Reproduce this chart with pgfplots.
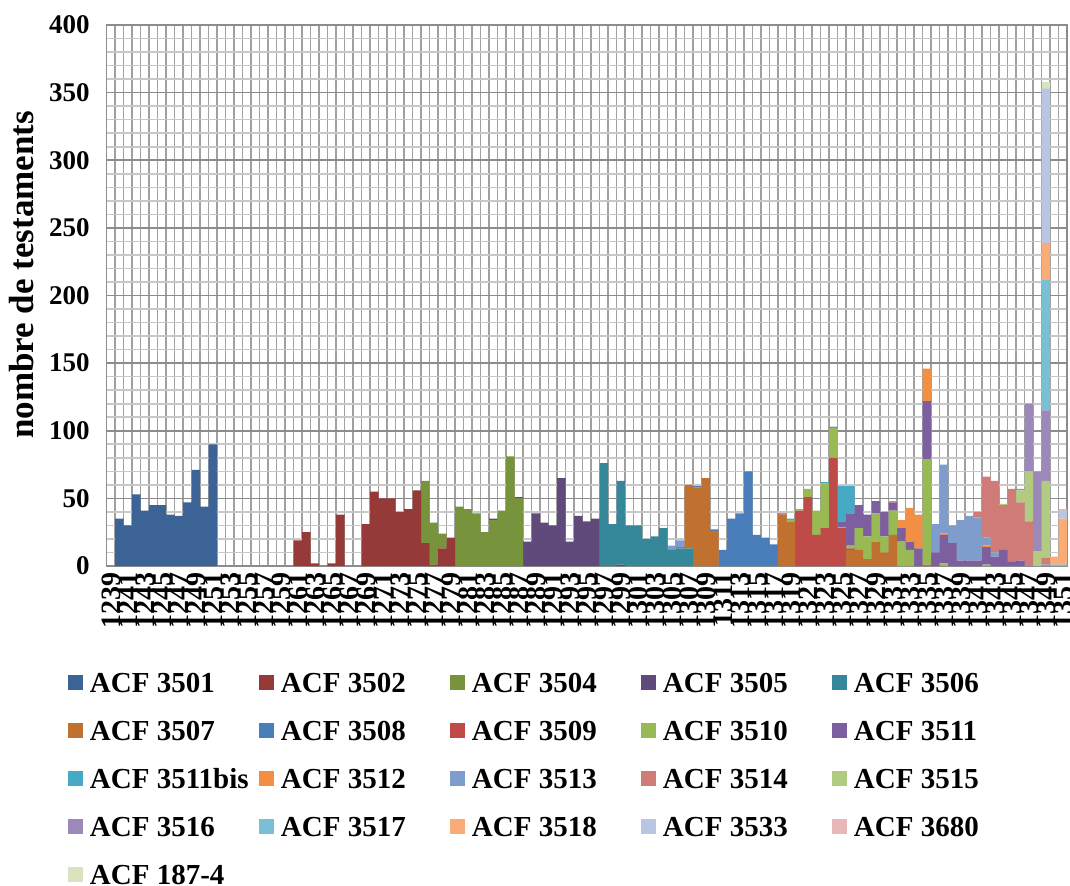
\documentclass[border=0pt]{standalone}
\usepackage{fontspec}
\setmainfont{Liberation Serif}
\usepackage{pgfplots}
\pgfplotsset{compat=1.18}
\usepackage{pgfplotstable}

\definecolor{c01}{HTML}{3B6395}
\definecolor{c02}{HTML}{953A38}
\definecolor{c04}{HTML}{77933C}
\definecolor{c05}{HTML}{604A7B}
\definecolor{c06}{HTML}{35879A}
\definecolor{c07}{HTML}{C0712F}
\definecolor{c08}{HTML}{4A7EBB}
\definecolor{c09}{HTML}{BE4B48}
\definecolor{c10}{HTML}{98B954}
\definecolor{c11}{HTML}{7D5FA0}
\definecolor{c11b}{HTML}{46AAC5}
\definecolor{c12}{HTML}{F38E45}
\definecolor{c13}{HTML}{7E9DCD}
\definecolor{c14}{HTML}{CF7C79}
\definecolor{c15}{HTML}{B1CB80}
\definecolor{c16}{HTML}{9D88BA}
\definecolor{c17}{HTML}{7AC0D4}
\definecolor{c18}{HTML}{F9AC76}
\definecolor{c33}{HTML}{B9C6E3}
\definecolor{c80}{HTML}{E6B9B8}
\definecolor{c87}{HTML}{D7E4BD}
\definecolor{gmaj}{HTML}{8C8C8C}
\definecolor{gmin}{HTML}{C8C8C8}
\definecolor{gvert}{HTML}{A0A0A0}

% testaments per year and register (ACF = archives)
\pgfplotstableread{
year a01 a02 a04 a05 a06 a07 a08 a09 a10 a11 a11b a12 a13 a14 a15 a16 a17 a18 a33 a80 a87
1240 35 0 0 0 0 0 0 0 0 0 0 0 0 0 0 0 0 0 0 0 0
1241 30 0 0 0 0 0 0 0 0 0 0 0 0 0 0 0 0 0 0 0 0
1242 53 0 0 0 0 0 0 0 0 0 0 0 0 0 0 0 0 0 0 0 0
1243 41 0 0 0 0 0 0 0 0 0 0 0 0 0 0 0 0 0 0 0 0
1244 45 0 0 0 0 0 0 0 0 0 0 0 0 0 0 0 0 0 0 0 0
1245 45 0 0 0 0 0 0 0 0 0 0 0 0 0 0 0 0 0 0 0 0
1246 38 0 0 0 0 0 0 0 0 0 0 0 0 0 0 0 0 0 0 0 0
1247 37 0 0 0 0 0 0 0 0 0 0 0 0 0 0 0 0 0 0 0 0
1248 47 0 0 0 0 0 0 0 0 0 0 0 0 0 0 0 0 0 0 0 0
1249 71 0 0 0 0 0 0 0 0 0 0 0 0 0 0 0 0 0 0 0 0
1250 44 0 0 0 0 0 0 0 0 0 0 0 0 0 0 0 0 0 0 0 0
1251 90 0 0 0 0 0 0 0 0 0 0 0 0 0 0 0 0 0 0 0 0
1261 0 19 0 0 0 0 0 0 0 0 0 0 0 0 0 0 0 0 0 0 0
1262 0 25 0 0 0 0 0 0 0 0 0 0 0 0 0 0 0 0 0 0 0
1263 0 2 0 0 0 0 0 0 0 0 0 0 0 0 0 0 0 0 0 0 0
1265 0 2 0 0 0 0 0 0 0 0 0 0 0 0 0 0 0 0 0 0 0
1266 0 38 0 0 0 0 0 0 0 0 0 0 0 0 0 0 0 0 0 0 0
1269 0 31 0 0 0 0 0 0 0 0 0 0 0 0 0 0 0 0 0 0 0
1270 0 55 0 0 0 0 0 0 0 0 0 0 0 0 0 0 0 0 0 0 0
1271 0 50 0 0 0 0 0 0 0 0 0 0 0 0 0 0 0 0 0 0 0
1272 0 50 0 0 0 0 0 0 0 0 0 0 0 0 0 0 0 0 0 0 0
1273 0 40 0 0 0 0 0 0 0 0 0 0 0 0 0 0 0 0 0 0 0
1274 0 42 0 0 0 0 0 0 0 0 0 0 0 0 0 0 0 0 0 0 0
1275 0 56 0 0 0 0 0 0 0 0 0 0 0 0 0 0 0 0 0 0 0
1276 0 17 46 0 0 0 0 0 0 0 0 0 0 0 0 0 0 0 0 0 0
1277 0 1 31 0 0 0 0 0 0 0 0 0 0 0 0 0 0 0 0 0 0
1278 0 13 11 0 0 0 0 0 0 0 0 0 0 0 0 0 0 0 0 0 0
1279 0 21 0 0 0 0 0 0 0 0 0 0 0 0 0 0 0 0 0 0 0
1280 0 0 44 0 0 0 0 0 0 0 0 0 0 0 0 0 0 0 0 0 0
1281 0 0 42 0 0 0 0 0 0 0 0 0 0 0 0 0 0 0 0 0 0
1282 0 0 39 0 0 0 0 0 0 0 0 0 0 0 0 0 0 0 0 0 0
1283 0 0 25 0 0 0 0 0 0 0 0 0 0 0 0 0 0 0 0 0 0
1284 0 0 34 1 0 0 0 0 0 0 0 0 0 0 0 0 0 0 0 0 0
1285 0 0 41 0 0 0 0 0 0 0 0 0 0 0 0 0 0 0 0 0 0
1286 0 0 81 0 0 0 0 0 0 0 0 0 0 0 0 0 0 0 0 0 0
1287 0 0 50 1 0 0 0 0 0 0 0 0 0 0 0 0 0 0 0 0 0
1288 0 0 0 18 0 0 0 0 0 0 0 0 0 0 0 0 0 0 0 0 0
1289 0 0 0 39 0 0 0 0 0 0 0 0 0 0 0 0 0 0 0 0 0
1290 0 0 0 32 0 0 0 0 0 0 0 0 0 0 0 0 0 0 0 0 0
1291 0 0 0 30 0 0 0 0 0 0 0 0 0 0 0 0 0 0 0 0 0
1292 0 0 0 65 0 0 0 0 0 0 0 0 0 0 0 0 0 0 0 0 0
1293 0 0 0 18 0 0 0 0 0 0 0 0 0 0 0 0 0 0 0 0 0
1294 0 0 0 37 0 0 0 0 0 0 0 0 0 0 0 0 0 0 0 0 0
1295 0 0 0 33 0 0 0 0 0 0 0 0 0 0 0 0 0 0 0 0 0
1296 0 0 0 35 0 0 0 0 0 0 0 0 0 0 0 0 0 0 0 0 0
1297 0 0 0 0 76 0 0 0 0 0 0 0 0 0 0 0 0 0 0 0 0
1298 0 0 0 0 31 0 0 0 0 0 0 0 0 0 0 0 0 0 0 0 0
1299 0 0 0 1 62 0 0 0 0 0 0 0 0 0 0 0 0 0 0 0 0
1300 0 0 0 0 30 0 0 0 0 0 0 0 0 0 0 0 0 0 0 0 0
1301 0 0 0 0 30 0 0 0 0 0 0 0 0 0 0 0 0 0 0 0 0
1302 0 0 0 0 20 0 0 0 0 0 0 0 0 0 0 0 0 0 0 0 0
1303 0 0 0 0 22 0 0 0 0 0 0 0 0 0 0 0 0 0 0 0 0
1304 0 0 0 0 28 0 0 0 0 0 0 0 0 0 0 0 0 0 0 0 0
1305 0 0 0 0 12 0 0 0 0 0 0 0 3 0 0 0 0 0 0 0 0
1306 0 0 0 0 13 1 0 0 0 0 0 0 5 0 0 0 0 0 0 0 0
1307 0 0 0 0 13 47 0 0 0 0 0 0 0 0 0 0 0 0 0 0 0
1308 0 0 0 0 0 58 1 0 0 0 0 0 0 0 0 0 0 0 0 0 0
1309 0 0 0 0 0 65 0 0 0 0 0 0 0 0 0 0 0 0 0 0 0
1310 0 0 0 0 0 26 1 0 0 0 0 0 0 0 0 0 0 0 0 0 0
1311 0 0 0 0 0 0 12 0 0 0 0 0 0 0 0 0 0 0 0 0 0
1312 0 0 0 0 0 0 35 0 0 0 0 0 0 0 0 0 0 0 0 0 0
1313 0 0 0 0 0 0 39 0 0 0 0 0 0 0 0 0 0 0 0 0 0
1314 0 0 0 0 0 0 70 0 0 0 0 0 0 0 0 0 0 0 0 0 0
1315 0 0 0 0 0 0 23 0 0 0 0 0 0 0 0 0 0 0 0 0 0
1316 0 0 0 0 0 0 21 0 0 0 0 0 0 0 0 0 0 0 0 0 0
1317 0 0 0 0 0 0 16 0 0 0 0 0 0 0 0 0 0 0 0 0 0
1318 0 0 0 0 0 38 0 1 0 0 0 0 0 0 0 0 0 0 0 0 0
1319 0 0 0 0 0 33 0 0 1 0 1 0 0 0 0 0 0 0 0 0 0
1320 0 0 0 0 0 0 0 41 1 0 0 0 0 0 0 0 0 0 0 0 0
1321 0 0 0 0 0 0 0 51 6 0 0 0 0 0 0 0 0 0 0 0 0
1322 0 0 0 0 0 0 0 23 18 0 0 0 0 0 0 0 0 0 0 0 0
1323 0 0 0 0 0 0 0 28 33 0 1 0 0 0 0 0 0 0 0 0 0
1324 0 0 0 0 0 0 0 80 22 0 1 0 0 0 0 0 0 0 0 0 0
1325 0 0 0 0 0 0 0 28 1 4 26 0 0 0 0 0 0 0 0 0 0
1326 0 0 0 0 0 12 0 1 2 24 20 0 0 0 0 0 0 0 0 0 0
1327 0 0 0 0 0 12 0 0 16 17 0 0 0 0 0 0 0 0 0 0 0
1328 0 0 0 0 0 5 0 0 17 16 0 0 0 0 0 0 0 0 0 0 0
1329 0 0 0 0 0 18 0 0 21 9 0 0 0 0 0 0 0 0 0 0 0
1330 0 0 0 0 0 10 0 0 12 18 0 0 0 0 0 0 0 0 0 0 0
1331 0 0 0 0 0 23 0 0 18 6 0 1 0 0 0 0 0 0 0 0 0
1332 0 0 0 0 0 0 0 0 18 10 0 6 0 0 0 0 0 0 0 0 0
1333 0 0 0 0 0 0 0 0 12 6 0 25 0 0 0 0 0 0 0 0 0
1334 0 0 0 0 0 0 0 0 0 13 0 25 0 0 0 0 0 0 0 0 0
1335 0 0 0 0 0 1 0 0 78 43 0 24 0 0 0 0 0 0 0 0 0
1336 0 0 0 0 0 0 0 0 0 10 0 0 21 0 0 0 0 0 0 0 0
1337 0 0 0 0 0 0 0 0 2 21 0 1 51 0 0 0 0 0 0 0 0
1338 0 0 0 0 0 0 0 0 0 17 0 0 13 0 0 0 0 0 0 0 0
1339 0 0 0 0 0 0 0 0 0 4 0 0 30 0 0 0 0 0 0 0 0
1340 0 0 0 0 0 0 0 0 0 4 0 0 33 0 0 0 0 0 0 0 0
1341 0 0 0 0 0 0 0 0 0 4 0 0 32 4 0 0 0 0 0 0 0
1342 0 0 0 0 0 0 0 0 1 13 0 1 6 45 0 0 0 0 0 0 0
1343 0 0 0 0 0 0 0 0 0 7 0 0 3 53 0 0 0 0 0 0 0
1344 0 0 0 0 0 0 0 0 0 12 0 0 0 33 1 0 0 0 0 0 0
1345 0 0 0 0 0 0 0 0 0 3 0 0 0 54 0 0 0 0 0 0 0
1346 0 0 0 0 0 0 0 0 0 4 0 0 0 43 9 1 0 0 0 0 0
1347 0 0 0 0 0 0 0 0 0 0 0 0 0 33 37 50 0 0 0 0 0
1348 0 0 0 0 0 0 0 0 0 0 0 0 0 0 11 59 0 0 0 0 0
1349 0 0 0 0 0 0 0 0 0 0 0 0 1 5 57 52 97 27 114 0 5
1350 0 0 0 0 0 0 0 0 0 0 0 0 0 0 0 0 1 6 0 0 0
1351 0 0 0 0 0 0 0 0 0 0 0 0 0 0 0 0 1 34 6 1 0
}\testaments

\begin{document}
\begin{tikzpicture}
\useasboundingbox (-53.35pt,-159.5pt) rectangle (481.65pt,283pt);
\begin{axis}[
  at={(0,0)}, anchor=south west,
  scale only axis, width=480.25pt, height=270.5pt,
  xmin=1238.5, xmax=1351.5, ymin=0, ymax=400,
  ybar stacked, bar width=1,
  xtick={1239,1241,...,1351},
  minor xtick={1238.5,1239.5,...,1351.5},
  ytick={0,50,...,400}, minor y tick num=4,
  xmajorgrids=false, xminorgrids=true,
  ymajorgrids=true, yminorgrids=true,
  minor x grid style={color=gvert, line width=0.8pt},
  major y grid style={color=gmaj, line width=0.8pt},
  minor y grid style={color=gmin, line width=0.8pt},
  major tick length=0pt, minor tick length=0pt,
  axis line style={color=gmaj, line width=0.8pt},
  /pgf/number format/1000 sep={},
  /pgf/number format/fixed,
  /pgf/number format/precision=0,
  /pgf/number format/assume math mode=true,
  yticklabel style={font=\bfseries\fontsize{13.5}{14}\selectfont, inner sep=0pt, xshift=-8.35pt},
  xticklabel style={font=\bfseries\fontsize{14}{14}\selectfont, yshift=-3pt, rotate=90, anchor=east, inner sep=0pt},
  ylabel={nombre de testaments},
  ylabel style={font=\bfseries\fontsize{17.5}{17.5}\selectfont, at={(axis description cs:-0.0882,0.538)}, anchor=center},
  legend columns=5,
  legend image code/.code={\path[#1] (0pt,-4pt) rectangle (7.5pt,3.5pt);},
  legend style={draw=none, fill=none, inner sep=0pt, outer sep=0pt,
    at={(axis description cs:-0.0403,-0.1968)}, anchor=north west,
    font=\bfseries\fontsize{14.5}{14.5}\selectfont,
    nodes={inner sep=0pt, text height=10pt, text depth=0pt},
    row sep=14pt,
    /tikz/every odd column/.append style={column sep=3.5pt},
    /tikz/every even column/.append style={column sep=4.5pt}},
]
\addplot[fill=c01, draw=none] table[x=year, y=a01]{\testaments};
\addlegendentry{\makebox[80pt][l]{ACF 3501}}
\addplot[fill=c02, draw=none] table[x=year, y=a02]{\testaments};
\addlegendentry{\makebox[80pt][l]{ACF 3502}}
\addplot[fill=c04, draw=none] table[x=year, y=a04]{\testaments};
\addlegendentry{\makebox[80pt][l]{ACF 3504}}
\addplot[fill=c05, draw=none] table[x=year, y=a05]{\testaments};
\addlegendentry{\makebox[80pt][l]{ACF 3505}}
\addplot[fill=c06, draw=none] table[x=year, y=a06]{\testaments};
\addlegendentry{\makebox[80pt][l]{ACF 3506}}
\addplot[fill=c07, draw=none] table[x=year, y=a07]{\testaments};
\addlegendentry{\makebox[80pt][l]{ACF 3507}}
\addplot[fill=c08, draw=none] table[x=year, y=a08]{\testaments};
\addlegendentry{\makebox[80pt][l]{ACF 3508}}
\addplot[fill=c09, draw=none] table[x=year, y=a09]{\testaments};
\addlegendentry{\makebox[80pt][l]{ACF 3509}}
\addplot[fill=c10, draw=none] table[x=year, y=a10]{\testaments};
\addlegendentry{\makebox[80pt][l]{ACF 3510}}
\addplot[fill=c11, draw=none] table[x=year, y=a11]{\testaments};
\addlegendentry{\makebox[80pt][l]{ACF 3511}}
\addplot[fill=c11b, draw=none] table[x=year, y=a11b]{\testaments};
\addlegendentry{\makebox[80pt][l]{ACF 3511bis}}
\addplot[fill=c12, draw=none] table[x=year, y=a12]{\testaments};
\addlegendentry{\makebox[80pt][l]{ACF 3512}}
\addplot[fill=c13, draw=none] table[x=year, y=a13]{\testaments};
\addlegendentry{\makebox[80pt][l]{ACF 3513}}
\addplot[fill=c14, draw=none] table[x=year, y=a14]{\testaments};
\addlegendentry{\makebox[80pt][l]{ACF 3514}}
\addplot[fill=c15, draw=none] table[x=year, y=a15]{\testaments};
\addlegendentry{\makebox[80pt][l]{ACF 3515}}
\addplot[fill=c16, draw=none] table[x=year, y=a16]{\testaments};
\addlegendentry{\makebox[80pt][l]{ACF 3516}}
\addplot[fill=c17, draw=none] table[x=year, y=a17]{\testaments};
\addlegendentry{\makebox[80pt][l]{ACF 3517}}
\addplot[fill=c18, draw=none] table[x=year, y=a18]{\testaments};
\addlegendentry{\makebox[80pt][l]{ACF 3518}}
\addplot[fill=c33, draw=none] table[x=year, y=a33]{\testaments};
\addlegendentry{\makebox[80pt][l]{ACF 3533}}
\addplot[fill=c80, draw=none] table[x=year, y=a80]{\testaments};
\addlegendentry{\makebox[80pt][l]{ACF 3680}}
\addplot[fill=c87, draw=none] table[x=year, y=a87]{\testaments};
\addlegendentry{\makebox[80pt][l]{ACF 187-4}}
\end{axis}
\end{tikzpicture}
\end{document}
